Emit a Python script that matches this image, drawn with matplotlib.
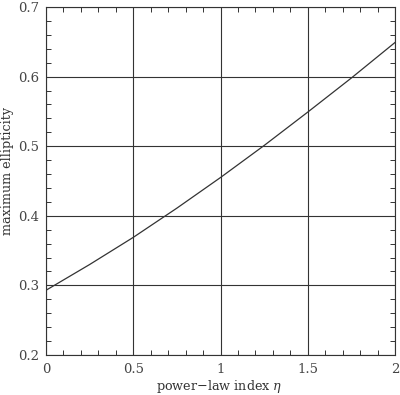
import numpy as np
import matplotlib.pyplot as plt
from matplotlib.ticker import MultipleLocator

# values
eta = [0.0, 0.25, 0.5, 0.75, 1.0, 1.25, 1.5, 1.75, 2.0]
ellipticity = [0.293, 0.330, 0.369, 0.411, 0.455, 0.501, 0.549, 0.598, 0.649]

x_ticks = [0, 0.5, 1, 1.5, 2]
x_labels = ["0", "0.5", "1", "1.5", "2"]
y_ticks = [0.2, 0.3, 0.4, 0.5, 0.6, 0.7]

plt.rcParams["font.family"] = ["DejaVu Serif"]
plt.rcParams["mathtext.fontset"] = "dejavuserif"

fig = plt.figure(figsize=(4.0, 3.95), dpi=100)
ax = fig.add_axes([46 / 400, 1 - 355 / 395, 349 / 400, 348 / 395])

line_col = "#333333"
ax.plot(eta, ellipticity, color=line_col, lw=0.9)

ax.set_xlim(0, 2)
ax.set_ylim(0.2, 0.7)
ax.set_xticks(x_ticks)
ax.set_xticklabels(x_labels)
ax.set_yticks(y_ticks)
ax.set_yticklabels([f"{v:.1f}" for v in y_ticks])
ax.xaxis.set_minor_locator(MultipleLocator(0.1))
ax.yaxis.set_minor_locator(MultipleLocator(0.02))

ax.grid(True, which="major", color=line_col, lw=0.8)
ax.tick_params(which="major", length=0, labelsize=9.5, colors="#444444")
ax.tick_params(axis="x", which="major", pad=6)
ax.tick_params(axis="y", which="major", pad=5)
ax.tick_params(which="minor", direction="in", length=3.5, width=0.7, color=line_col,
               top=True, right=True)
for s in ax.spines.values():
    s.set_color(line_col)
    s.set_linewidth(0.8)

ax.set_xlabel(r"power$-$law index $\eta$", fontsize=9.2, color="#333333")
ax.set_ylabel("maximum ellipticity", fontsize=9.2, color="#333333")
ax.xaxis.set_label_coords(0.496, -0.066)
ax.yaxis.set_label_coords(-0.092, 0.529)

fig.savefig("out.png", dpi=100)
